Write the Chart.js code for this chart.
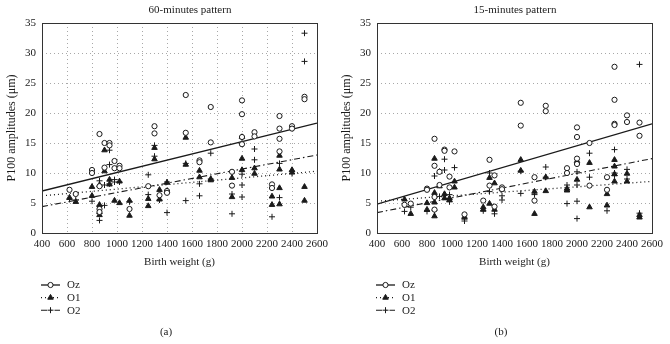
<!DOCTYPE html>
<html>
<head>
<meta charset="utf-8">
<script src="https://cdn.jsdelivr.net/npm/chart.js@4.4.0/dist/chart.umd.min.js"></script>
<style>
    html, body { margin: 0; padding: 0; background: #fff; }
    #wrap { position: relative; width: 670px; height: 344px; }
    .panel { position: absolute; top: 0; width: 335px; height: 344px; }
</style>
</head>
<body>
<div id="wrap">
    <div class="panel" style="left:0"><canvas id="chartA"></canvas></div>
    <div class="panel" style="left:335px"><canvas id="chartB"></canvas></div>
</div>
<script>
/* ================= DATA ================= */
const seriesNames = ['Oz', 'O1', 'O2'];
const weights = [620, 670, 800, 860, 900, 940, 980, 1020, 1100, 1250, 1300, 1340,
                 1400, 1550, 1660, 1750, 1920, 2000, 2100, 2240, 2300, 2400, 2500];
const xTicks = [400, 600, 800, 1000, 1200, 1400, 1600, 1800, 2000, 2200, 2400, 2600];
const yTicks = [0, 5, 10, 15, 20, 25, 30, 35];
const fitX = [400, 2600];

// (a) 60-minutes pattern, values per weight
const ozA = [[7.2], [6.5], [10.5, 10.0], [16.5, 7.8, 4.0, 3.5], [15.0, 10.9], [15.0, 14.6],
             [12.0, 10.8], [11.2, 10.8], [4.0], [7.8], [17.8, 16.6], [6.3], [7.0, 6.7],
             [23.0, 16.7], [12.1, 11.8], [21.0, 15.1], [10.2, 7.9], [22.1, 19.8, 16.0, 14.8],
             [16.8, 16.1], [8.1, 7.5], [19.5, 17.4, 15.7, 13.6], [17.8, 17.4], [22.7, 22.3]];
const o1A = [[5.9], [5.2], [7.7, 6.2], [8.0, 4.7, 3.5, 3.0], [13.8, 10.3], [8.9, 8.1],
             [5.4], [8.6, 5.0], [5.4, 2.9], [5.7, 4.5], [14.2, 12.3], [7.2, 5.6], [8.4, 7.0],
             [15.9, 11.4], [10.4, 9.3], [9.0, 8.8], [9.2, 6.0], [16.0, 12.4, 10.5],
             [10.8, 9.9], [6.1, 4.7], [12.9, 10.6, 7.5, 4.8], [10.5, 10.1], [7.7, 5.4]];
const o2A = [[5.6], [5.5], [5.3], [8.7, 4.5, 2.1], [8.0, 4.6], [13.8, 11.4, 8.2],
             [8.9, 8.5], [8.5], [5.2], [9.7, 6.4], [14.6, 12.8], [5.5], [8.5, 3.4],
             [11.6, 5.4], [8.2, 6.2], [13.3, 9.0], [6.5, 3.2], [15.8, 9.8, 8.0, 6.0],
             [14.0, 12.2], [2.7], [11.6, 5.9], [10.3, 9.9], [33.3, 28.6]];
const ozFitA = [7.0, 18.3];
const o1FitA = [6.2, 10.3];
const o2FitA = [4.4, 13.0];

// (b) 15-minutes pattern
const ozB = [[4.7], [4.9], [7.4, 7.2], [15.7, 11.2, 6.0, 3.9], [10.2, 8.0], [13.9, 13.7],
             [9.4, 7.6], [13.6], [3.1], [5.4], [12.2, 7.9], [9.6, 4.4], [7.6, 7.3],
             [21.7, 17.9], [9.3, 5.4], [21.2, 20.3], [10.8, 10.0], [17.6, 16.0, 12.4, 11.5],
             [15.0, 7.9], [9.3, 7.2], [27.7, 22.2, 18.2, 18.0], [19.6, 18.5], [18.4, 16.2]];
const o1B = [[5.6], [3.2], [5.0, 3.9], [12.4, 6.7, 5.1, 2.8], [10.2, 7.8], [6.5, 5.8],
             [5.8, 5.5], [8.6, 7.6], [2.7], [4.3, 3.9], [9.2, 4.9], [8.3, 3.9], [7.3],
             [12.2, 10.4], [6.9, 3.2], [9.3, 7.0], [7.4, 7.1], [12.0, 8.9],
             [11.7, 4.3], [6.5, 4.6], [12.2, 11.1, 9.8, 8.6], [9.9, 8.6], [3.0, 2.6]];
const o2B = [[3.6], [4.3], [3.6], [9.5, 3.8], [6.1], [12.3, 10.5],
             [6.4, 5.2], [10.9], [2.3, 2.0], [3.7], [10.0, 6.9], [3.2], [6.2, 5.5],
             [10.3, 6.6], [6.4], [11.0, 9.3], [8.0, 4.9], [10.2, 8.0, 5.3, 2.4],
             [13.3, 9.3], [3.7], [13.9, 10.0, 9.6], [10.6, 9.0], [28.1, 3.3]];
const ozFitB = [4.8, 18.2];
const o1FitB = [5.3, 8.6];
const o2FitB = [3.4, 12.4];

/* ================= STYLE ================= */
const FONT = "'Liberation Serif', 'DejaVu Serif', serif";
const INK = '#1a1a1a';
const markers = [
    { pointStyle: 'circle', radius: 2.6, backgroundColor: '#fff', borderWidth: 1 },
    { pointStyle: 'triangle', radius: 3.2, backgroundColor: INK, borderWidth: 1 },
    { pointStyle: 'cross', radius: 3, backgroundColor: INK, borderWidth: 1 }
];
const lines = [
    { dash: [], width: 1.3 },
    { dash: [1, 3], width: 1.3 },
    { dash: [6, 3, 1.5, 3], width: 1.1 }
];

function toPoints(values) {
    const pts = [];
    values.forEach((list, i) => {
        list.forEach(v => pts.push({ x: weights[i], y: v }));
    });
    return pts;
}

function buildDatasets(series, fits) {
    const sets = [];
    series.forEach((values, k) => {
        sets.push({
            label: seriesNames[k],
            data: toPoints(values),
            pointStyle: markers[k].pointStyle,
            pointRadius: markers[k].radius,
            pointBackgroundColor: markers[k].backgroundColor,
            pointBorderColor: INK,
            pointBorderWidth: markers[k].borderWidth,
            showLine: false
        });
    });
    fits.forEach((fit, k) => {
        sets.push({
            label: seriesNames[k] + ' fit',
            data: fitX.map((x, i) => ({ x: x, y: fit[i] })),
            showLine: true,
            pointRadius: 0,
            borderColor: INK,
            borderWidth: lines[k].width,
            borderDash: lines[k].dash
        });
    });
    return sets;
}

/* ================= FRAME / LEGEND PLUGIN ================= */
const framePlugin = {
    id: 'frame',
    afterDraw(chart, args, opts) {
        const { ctx, chartArea: a } = chart;
        ctx.save();
        ctx.strokeStyle = '#333';
        ctx.lineWidth = 1;
        ctx.setLineDash([]);
        ctx.strokeRect(a.left + 0.5, a.top + 0.5, a.right - a.left, a.bottom - a.top);

        ctx.fillStyle = INK;
        ctx.font = '11px ' + FONT;
        ctx.textAlign = 'center';
        ctx.textBaseline = 'middle';
        ctx.fillText(opts.title, opts.titleX, 10);
        ctx.fillText(opts.tag, opts.tagX, 332);

        // legend
        seriesNames.forEach((name, k) => {
            const y = 285 + k * 12.6;
            ctx.strokeStyle = INK;
            ctx.lineWidth = lines[k].width;
            ctx.setLineDash(lines[k].dash);
            ctx.beginPath();
            ctx.moveTo(41, y);
            ctx.lineTo(60, y);
            ctx.stroke();
            ctx.setLineDash([]);
            ctx.lineWidth = 1;
            ctx.fillStyle = markers[k].backgroundColor;
            Chart.helpers.drawPoint(ctx, {
                pointStyle: markers[k].pointStyle,
                radius: markers[k].radius,
                borderWidth: 1,
                rotation: 0
            }, 50.5, y);
            ctx.fillStyle = INK;
            ctx.textAlign = 'left';
            ctx.fillText(name, 67, y + 0.5);
        });
        ctx.restore();
    }
};

function makeChart(id, series, fits, title, titleX, tag, vGrid) {
    const el = document.getElementById(id);
    return new Chart(el, {
        type: 'scatter',
        data: { datasets: buildDatasets(series, fits) },
        options: {
            responsive: true,
            maintainAspectRatio: false,
            animation: false,
            layout: { padding: { left: 0, right: 18, top: 23, bottom: 75 } },
            plugins: {
                legend: { display: false },
                tooltip: { enabled: false },
                frame: { title: title, titleX: titleX, tag: tag, tagX: 166 }
            },
            scales: {
                x: {
                    type: 'linear',
                    min: xTicks[0],
                    max: xTicks[xTicks.length - 1],
                    afterBuildTicks: s => { s.ticks = xTicks.map(v => ({ value: v })); },
                    afterFit: s => { s.height = 36; },
                    ticks: {
                        color: INK, font: { family: FONT, size: 11 }, padding: 5,
                        maxRotation: 0, autoSkip: false,
                        callback: v => String(v)
                    },
                    grid: { display: vGrid, color: '#a8a8a8', drawTicks: false, lineWidth: 1 },
                    border: { display: false, dash: [1, 3] },
                    title: { display: true, text: 'Birth weight (g)', color: INK, font: { family: FONT, size: 11 }, padding: 0 }
                },
                y: {
                    min: yTicks[0],
                    max: yTicks[yTicks.length - 1],
                    afterBuildTicks: s => { s.ticks = yTicks.map(v => ({ value: v })); },
                    afterFit: s => { s.width = 42; },
                    ticks: { color: INK, font: { family: FONT, size: 11 }, padding: 6, callback: v => String(v) },
                    grid: { color: '#a8a8a8', drawTicks: false, lineWidth: 1 },
                    border: { display: false, dash: [1, 3] },
                    title: { display: true, text: 'P100 amplitudes (μm)', color: INK, font: { family: FONT, size: 12 }, padding: { top: 5, bottom: 0 } }
                }
            }
        },
        plugins: [framePlugin]
    });
}

document.addEventListener('DOMContentLoaded', function () {
    makeChart('chartA', [ozA, o1A, o2A], [ozFitA, o1FitA, o2FitA], '60-minutes pattern', 190, '(a)', true);
    makeChart('chartB', [ozB, o1B, o2B], [ozFitB, o1FitB, o2FitB], '15-minutes pattern', 180, '(b)', false);
});
</script>
</body>
</html>
